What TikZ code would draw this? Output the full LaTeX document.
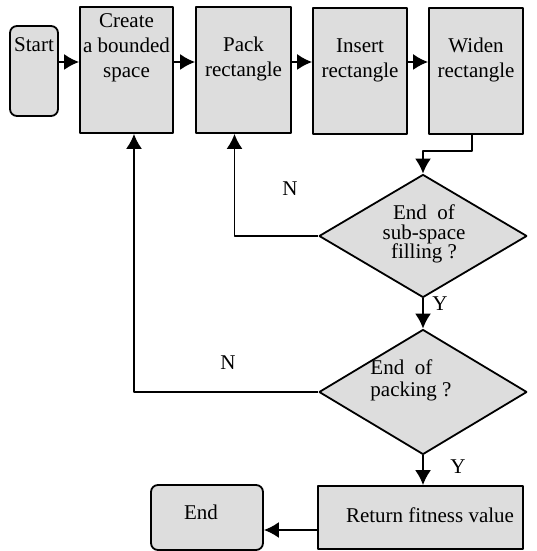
\documentclass[tikz,border=0pt]{standalone}
\usepackage{fontspec}
\setmainfont{Liberation Serif}
\usetikzlibrary{shapes.geometric,arrows.meta}
\definecolor{boxgray}{RGB}{221,221,221}

\begin{document}
\begin{tikzpicture}[>={Latex[length=15bp,width=16bp]},line join=bevel,line width=1.8bp,
  stepbox/.style={draw,fill=boxgray,rectangle,inner sep=0pt,minimum width=94bp,minimum height=126bp},
  endbox/.style={stepbox,rounded corners=7bp},
  testbox/.style={draw,fill=boxgray,diamond,inner sep=0pt,minimum width=208bp,minimum height=124bp},
  txt/.style={draw=none,align=center,inner sep=0pt,font=\fontsize{21bp}{25bp}\selectfont},
  ]
\useasboundingbox (0bp,0bp) rectangle (537bp,551bp);
%%
\node (node_start) at (34bp,480bp) [endbox,minimum width=48bp,minimum height=90bp] {};
  \node (node_create) at (126.5bp,481bp) [stepbox,minimum width=93bp] {};
  \node (node_pack) at (243.5bp,481bp) [stepbox,minimum width=95bp] {};
  \node (node_insert) at (360bp,480bp) [stepbox] {};
  \node (node_widen) at (476bp,480bp) [stepbox] {};
  \node (node_sub) at (423bp,315bp) [testbox,minimum height=123bp] {};
  \node (node_full) at (423bp,159bp) [testbox,minimum height=125bp] {};
  \node (node_ret) at (420.5bp,33.5bp) [stepbox,minimum width=205bp,minimum height=63bp] {};
  \node (node_end) at (207bp,33.5bp) [endbox,minimum width=112bp,minimum height=65bp] {};
%
\node (text_start) at (34bp,506bp) [txt] {Start};
  \node (text_create) at (126.5bp,503bp) [txt] {Create\\a bounded\\space};
  \node (text_pack) at (243.5bp,492.5bp) [txt] {Pack\\rectangle};
  \node (text_insert) at (360bp,491bp) [txt] {Insert\\rectangle};
  \node (text_widen) at (476bp,491bp) [txt] {Widen\\rectangle};
  \node (text_sub) at (424bp,317bp) [txt,font=\fontsize{21bp}{19.5bp}\selectfont] {End~ of\\sub-space\\filling ?};
  \node (text_full) at (411bp,171bp) [txt,align=left,font=\fontsize{21bp}{22bp}\selectfont] {End~ of\\packing ?};
  \node (text_ret) at (430bp,36bp) [txt] {Return fitness value};
  \node (text_end) at (201bp,39bp) [txt] {End};
  \node (text_n1) at (290bp,362bp) [txt] {N};
  \node (text_n2) at (228bp,188bp) [txt] {N};
  \node (text_y1) at (440bp,247bp) [txt] {Y};
  \node (text_y2) at (458bp,84bp) [txt] {Y};
%
\coordinate (row) at (0bp,489bp);
  \draw [->] (node_start.east |- row) -- (node_create.west |- row);
  \draw [->] (node_create.east |- row) -- (node_pack.west |- row);
  \draw [->] (node_pack.east |- row) -- (node_insert.west |- row);
  \draw [->] (node_insert.east |- row) -- (node_widen.west |- row);
  \draw [->] ([xshift=-4bp]node_widen.south) -- ++(0bp,-16bp) -| (node_sub.north);
  \draw [->] (node_sub.west) -| ([xshift=-9bp]node_pack.south);
  \draw [->] (node_sub.south) -- (node_full.north);
  \draw [->] (node_full.west) -| ([xshift=7.5bp]node_create.south);
  \draw [->] (node_full.south) -- (node_full.south |- node_ret.north);
  \draw [->] ([yshift=-12.5bp]node_ret.west) -- ([yshift=-12.5bp]node_end.east);
%
\end{tikzpicture}
\end{document}
